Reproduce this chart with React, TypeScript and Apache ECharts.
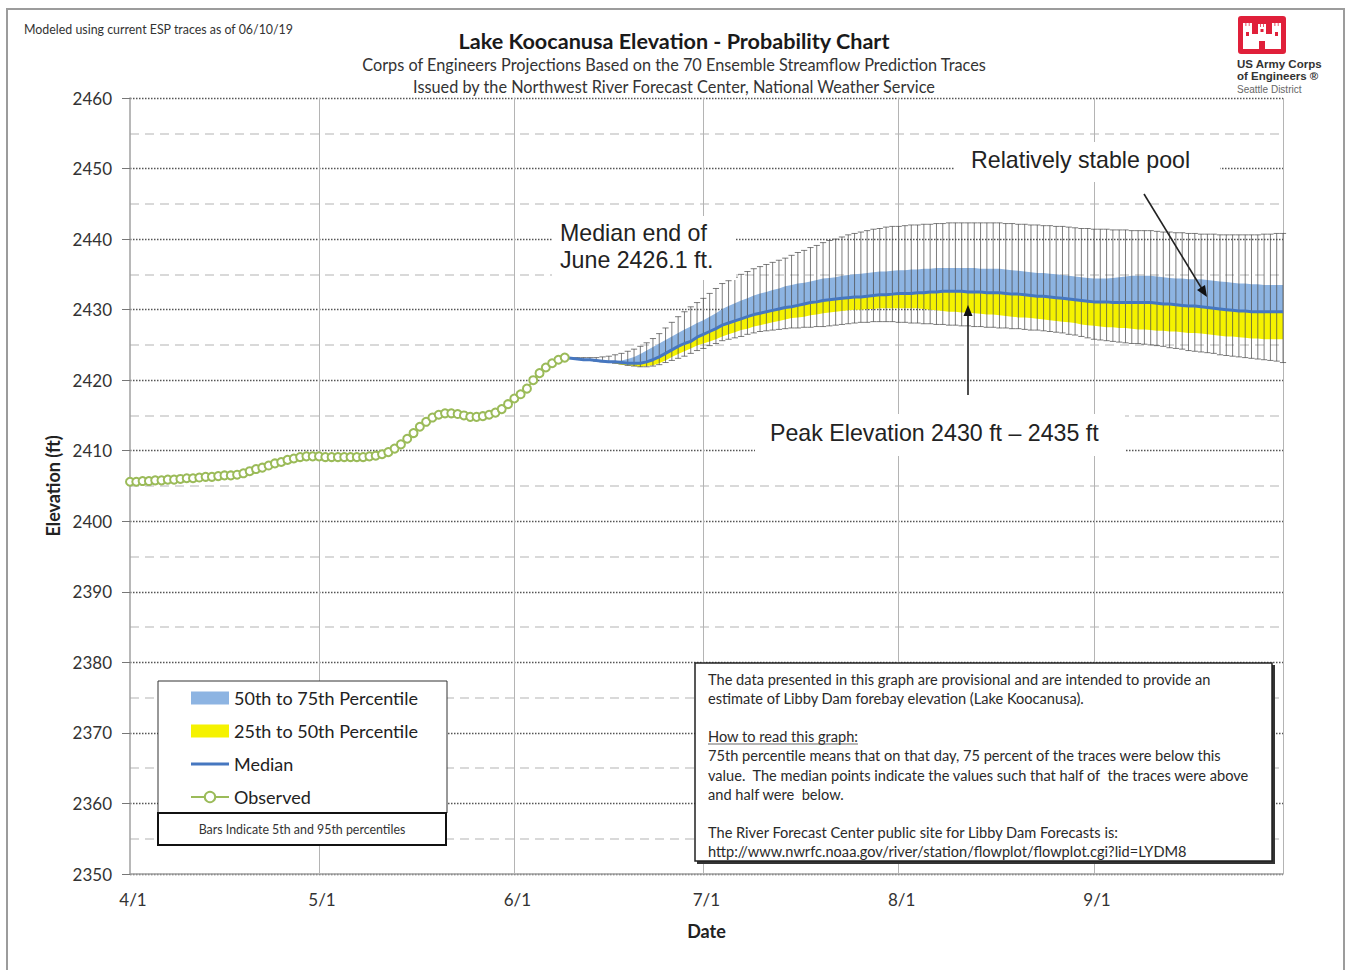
import React, { useEffect, useRef } from "react";
import * as echarts from "echarts";

// ---------- axis / tick data ----------
const monthStartDays = [0, 30, 61, 91, 122, 153];
const monthLabels = ["4/1", "5/1", "6/1", "7/1", "8/1", "9/1"];
const verticalGridDays = [30, 61, 91, 122, 153, 183];
const xMaxDay = 183;
const yMin = 2350;
const yMax = 2460;

// ---------- observed elevations (daily from 4/1) ----------
const observedStartDay = 0;
const observed = [
  2405.6, 2405.6, 2405.7, 2405.7, 2405.8, 2405.8, 2405.9, 2405.9, 2406.0, 2406.1,
  2406.1, 2406.2, 2406.3, 2406.3, 2406.4, 2406.5, 2406.5, 2406.6, 2406.8, 2407.1,
  2407.4, 2407.6, 2407.9, 2408.2, 2408.4, 2408.7, 2408.9, 2409.1, 2409.2, 2409.2,
  2409.2, 2409.1, 2409.1, 2409.1, 2409.1, 2409.1, 2409.1, 2409.1, 2409.2, 2409.3,
  2409.5, 2409.8, 2410.3, 2410.9, 2411.7, 2412.5, 2413.4, 2414.1, 2414.7, 2415.1,
  2415.3, 2415.3, 2415.2, 2415.0, 2414.8, 2414.8, 2414.9, 2415.1, 2415.4, 2415.9,
  2416.6, 2417.4, 2418.0, 2418.8, 2420.0, 2421.0, 2421.8, 2422.4, 2422.9, 2423.2,
];

// ---------- forecast percentiles (daily from 6/9) ----------
const forecastStartDay = 69;
const median = [
  2423.2, 2423.1, 2423.0, 2422.9, 2422.9, 2422.8, 2422.7, 2422.6, 2422.6, 2422.5,
  2422.4, 2422.4, 2422.4, 2422.6, 2422.9, 2423.3, 2423.8, 2424.3, 2424.8, 2425.2,
  2425.5, 2426.1, 2426.5, 2426.9, 2427.3, 2427.8, 2428.1, 2428.4, 2428.7, 2429.0,
  2429.3, 2429.5, 2429.7, 2429.9, 2430.1, 2430.3, 2430.4, 2430.6, 2430.8, 2431.0,
  2431.1, 2431.3, 2431.4, 2431.5, 2431.6, 2431.7, 2431.8, 2431.8, 2431.9, 2432.0,
  2432.1, 2432.1, 2432.2, 2432.3, 2432.3, 2432.3, 2432.4, 2432.4, 2432.5, 2432.5,
  2432.6, 2432.6, 2432.6, 2432.6, 2432.5, 2432.5, 2432.5, 2432.4, 2432.4, 2432.4,
  2432.3, 2432.2, 2432.2, 2432.1, 2432.0, 2431.9, 2431.9, 2431.8, 2431.7, 2431.6,
  2431.5, 2431.4, 2431.3, 2431.2, 2431.1, 2431.1, 2431.1, 2431.0, 2431.0, 2431.0,
  2431.0, 2431.0, 2431.0, 2431.0, 2430.9, 2430.8, 2430.8, 2430.7, 2430.6, 2430.5,
  2430.5, 2430.4, 2430.3, 2430.2, 2430.1, 2430.0, 2429.9, 2429.8, 2429.8, 2429.7,
  2429.7, 2429.7, 2429.7, 2429.7, 2429.7,
];
const p75 = [
  2423.2, 2423.1, 2423.0, 2422.9, 2422.9, 2422.8, 2422.8, 2422.7, 2422.7, 2422.8,
  2423.0, 2423.3, 2423.7, 2424.2, 2424.7, 2425.2, 2425.7, 2426.2, 2426.7, 2427.2,
  2427.6, 2428.1, 2428.5, 2429.0, 2429.5, 2430.1, 2430.5, 2430.9, 2431.3, 2431.6,
  2432.0, 2432.3, 2432.5, 2432.8, 2433.0, 2433.3, 2433.5, 2433.7, 2433.8, 2434.0,
  2434.2, 2434.4, 2434.5, 2434.6, 2434.8, 2434.9, 2435.0, 2435.1, 2435.2, 2435.3,
  2435.4, 2435.4, 2435.5, 2435.6, 2435.6, 2435.7, 2435.7, 2435.8, 2435.8, 2435.9,
  2435.9, 2435.9, 2435.9, 2435.9, 2435.9, 2435.9, 2435.8, 2435.8, 2435.8, 2435.8,
  2435.7, 2435.6, 2435.5, 2435.4, 2435.3, 2435.2, 2435.2, 2435.1, 2435.0, 2434.9,
  2434.8, 2434.7, 2434.6, 2434.5, 2434.4, 2434.4, 2434.4, 2434.5, 2434.6, 2434.7,
  2434.8, 2434.8, 2434.8, 2434.8, 2434.7, 2434.6, 2434.5, 2434.4, 2434.4, 2434.3,
  2434.3, 2434.3, 2434.2, 2434.1, 2434.0, 2433.9, 2433.8, 2433.7, 2433.7, 2433.6,
  2433.6, 2433.5, 2433.5, 2433.5, 2433.5,
];
const p25 = [
  2423.2, 2423.1, 2423.0, 2422.9, 2422.8, 2422.7, 2422.6, 2422.5, 2422.4, 2422.2,
  2422.1, 2422.0, 2421.9, 2422.0, 2422.1, 2422.4, 2422.8, 2423.3, 2423.7, 2424.1,
  2424.5, 2424.9, 2425.2, 2425.5, 2425.8, 2426.2, 2426.5, 2426.8, 2427.1, 2427.3,
  2427.6, 2427.8, 2428.0, 2428.2, 2428.4, 2428.6, 2428.8, 2428.9, 2429.0, 2429.2,
  2429.3, 2429.5, 2429.6, 2429.7, 2429.8, 2429.9, 2430.0, 2430.0, 2430.1, 2430.1,
  2430.2, 2430.2, 2430.2, 2430.2, 2430.2, 2430.2, 2430.2, 2430.1, 2430.0, 2429.9,
  2429.8, 2429.7, 2429.7, 2429.6, 2429.6, 2429.5, 2429.4, 2429.3, 2429.3, 2429.2,
  2429.1, 2429.0, 2428.9, 2428.9, 2428.8, 2428.7, 2428.6, 2428.5, 2428.4, 2428.3,
  2428.2, 2428.1, 2427.9, 2427.8, 2427.7, 2427.6, 2427.5, 2427.5, 2427.4, 2427.4,
  2427.3, 2427.2, 2427.2, 2427.1, 2427.0, 2427.0, 2426.9, 2426.9, 2426.8, 2426.7,
  2426.7, 2426.6, 2426.5, 2426.4, 2426.3, 2426.2, 2426.2, 2426.1, 2426.0, 2425.9,
  2425.9, 2425.8, 2425.8, 2425.8, 2425.8,
];
const p95 = [
  2423.2, 2423.2, 2423.2, 2423.2, 2423.2, 2423.2, 2423.3, 2423.4, 2423.6, 2423.8,
  2424.1, 2424.4, 2424.8, 2425.3, 2425.9, 2426.6, 2427.4, 2428.2, 2429.0, 2429.7,
  2430.4, 2431.0, 2431.6, 2432.3, 2433.0, 2433.7, 2434.1, 2434.6, 2435.0, 2435.4,
  2435.8, 2436.1, 2436.4, 2436.7, 2437.0, 2437.3, 2437.7, 2438.1, 2438.4, 2438.8,
  2439.1, 2439.5, 2439.8, 2440.0, 2440.3, 2440.6, 2440.8, 2441.0, 2441.2, 2441.4,
  2441.5, 2441.7, 2441.8, 2441.8, 2441.9, 2442.0, 2442.0, 2442.1, 2442.1, 2442.2,
  2442.2, 2442.3, 2442.3, 2442.3, 2442.3, 2442.3, 2442.3, 2442.3, 2442.3, 2442.3,
  2442.2, 2442.2, 2442.1, 2442.1, 2442.0, 2442.0, 2441.9, 2441.9, 2441.8, 2441.8,
  2441.7, 2441.6, 2441.5, 2441.5, 2441.4, 2441.4, 2441.4, 2441.3, 2441.3, 2441.3,
  2441.2, 2441.2, 2441.2, 2441.2, 2441.1, 2441.0, 2441.0, 2440.9, 2440.9, 2440.8,
  2440.8, 2440.7, 2440.7, 2440.7, 2440.6, 2440.6, 2440.6, 2440.6, 2440.6, 2440.6,
  2440.6, 2440.7, 2440.7, 2440.8, 2440.8,
];
const p5 = [
  2423.2, 2423.1, 2423.0, 2422.9, 2422.8, 2422.7, 2422.6, 2422.5, 2422.4, 2422.3,
  2422.1, 2422.0, 2421.9, 2421.9, 2422.0, 2422.2, 2422.5, 2422.8, 2423.1, 2423.4,
  2423.8, 2424.2, 2424.5, 2424.9, 2425.2, 2425.6, 2425.8, 2426.0, 2426.2, 2426.5,
  2426.7, 2426.9, 2427.0, 2427.1, 2427.2, 2427.3, 2427.4, 2427.4, 2427.5, 2427.5,
  2427.6, 2427.6, 2427.7, 2427.8, 2427.9, 2428.0, 2428.1, 2428.2, 2428.2, 2428.3,
  2428.3, 2428.3, 2428.3, 2428.2, 2428.2, 2428.1, 2428.1, 2428.0, 2428.0, 2427.9,
  2427.9, 2427.8, 2427.8, 2427.7, 2427.7, 2427.6, 2427.6, 2427.5, 2427.5, 2427.4,
  2427.4, 2427.3, 2427.3, 2427.2, 2427.1, 2427.1, 2427.0, 2426.9, 2426.8, 2426.7,
  2426.5, 2426.4, 2426.2, 2426.0, 2425.8, 2425.7, 2425.6, 2425.5, 2425.4, 2425.3,
  2425.2, 2425.2, 2425.1, 2425.0, 2424.9, 2424.8, 2424.6, 2424.5, 2424.4, 2424.2,
  2424.1, 2424.0, 2423.9, 2423.8, 2423.6, 2423.5, 2423.4, 2423.3, 2423.2, 2423.1,
  2423.0, 2422.9, 2422.8, 2422.7, 2422.5,
];

// ---------- names & texts ----------
const NAME_BLUE = "50th to 75th Percentile";
const NAME_YELLOW = "25th to 50th Percentile";
const NAME_MEDIAN = "Median";
const NAME_OBS = "Observed";

const infoLines = [
  { t: "The data presented in this graph are provisional and are intended to provide an", y: 679 },
  { t: "estimate of Libby Dam forebay elevation (Lake Koocanusa).", y: 698 },
  { t: "How to read this graph:", y: 736 },
  { t: "75th percentile means that on that day, 75 percent of the traces were below this", y: 755 },
  { t: "value.  The median points indicate the values such that half of  the traces were above", y: 775 },
  { t: "and half were  below.", y: 794 },
  { t: "The River Forecast Center public site for Libby Dam Forecasts is:", y: 832 },
  { t: "http://www.nwrfc.noaa.gov/river/station/flowplot/flowplot.cgi?lid=LYDM8", y: 851 },
];

const FONT = "Lato, 'Noto Sans', sans-serif";
const ARIAL = "'Liberation Sans', Arial, sans-serif";

function txt(text: string, x: number, y: number, o: any = {}) {
  const align = o.align || "left";
  return {
    type: "text",
    z: o.z || 100,
    style: {
      text,
      x,
      y,
      fill: o.fill || "#222",
      fontFamily: o.fontFamily || FONT,
      fontSize: o.fontSize || 12,
      fontWeight: o.fontWeight || "normal",
      align,
      textAlign: align,
      verticalAlign: "middle",
      textVerticalAlign: "middle",
    },
  };
}

export default function App() {
  const ref = useRef<HTMLDivElement>(null);

  useEffect(() => {
    if (!ref.current) return;
    const chart = echarts.init(ref.current, null, { renderer: "svg" });

    const fDay = (i: number) => forecastStartDay + i;
    const obsData = observed.map((v, i) => [observedStartDay + i, v]);
    const medianData = median.map((v, i) => [fDay(i), v]);
    const barData = p5.map((v, i) => [fDay(i), v, p95[i]]);

    const bandSeries = (name: string, lower: number[], upper: number[], color: string) => ({
      name,
      type: "custom",
      silent: true,
      itemStyle: { color },
      data: lower.map((v, i) => [fDay(i), v, upper[i]]),
      encode: { x: 0, y: [1, 2] },
      renderItem: (params: any, api: any) => {
        if (params.dataIndex !== 0) return null;
        const pts: number[][] = [];
        for (let i = 0; i < upper.length; i++) pts.push(api.coord([fDay(i), upper[i]]));
        for (let i = lower.length - 1; i >= 0; i--) pts.push(api.coord([fDay(i), lower[i]]));
        return { type: "polygon", shape: { points: pts }, style: { fill: color, stroke: null } };
      },
    });

    // logo castle pieces (white on red)
    const lx = 1238, ly = 16;
    const castle = [
      [5, 10, 9, 23], [34, 10, 9, 23], [14, 18, 20, 15], [20, 11, 8, 7],
      [5, 7, 2.5, 3], [8.3, 7, 2.5, 3], [11.5, 7, 2.5, 3],
      [34, 7, 2.5, 3], [37.3, 7, 2.5, 3], [40.5, 7, 2.5, 3],
      [20, 8, 2.2, 3], [22.9, 8, 2.2, 3], [25.8, 8, 2.2, 3],
    ];
    const castleHoles = [[21, 25, 6, 8], [8, 16, 3, 4], [37, 16, 3, 4], [22.5, 13, 3, 3]];

    const graphics: any[] = [
      // outer frame
      { type: "rect", z: 100, shape: { x: 7, y: 9, width: 1337, height: 1000 }, style: { fill: "none", stroke: "#9c9c9c", lineWidth: 2 } },
      txt("Modeled using current ESP traces as of 06/10/19", 24, 29, { fontSize: 12.4, fill: "#333" }),
      txt("Lake Koocanusa Elevation - Probability Chart", 674, 41, { align: "center", fontSize: 21.6, fontWeight: "bold", fill: "#1a1a1a" }),
      txt("Corps of Engineers Projections Based on the 70 Ensemble Streamflow Prediction Traces", 674, 64, { align: "center", fontSize: 16.3, fill: "#333" }),
      txt("Issued by the Northwest River Forecast Center, National Weather Service", 674, 86, { align: "center", fontSize: 16.3, fill: "#333" }),
      // logo
      { type: "rect", z: 100, shape: { x: lx, y: ly, width: 48, height: 38, r: 3 }, style: { fill: "#e0203a" } },
      ...castle.map((c) => ({ type: "rect", z: 101, shape: { x: lx + c[0], y: ly + c[1], width: c[2], height: c[3] }, style: { fill: "#ffffff" } })),
      ...castleHoles.map((c) => ({ type: "rect", z: 102, shape: { x: lx + c[0], y: ly + c[1], width: c[2], height: c[3] }, style: { fill: "#e0203a" } })),
      txt("US Army Corps", 1237, 64, { fontSize: 11.5, fontWeight: "bold", fill: "#333", fontFamily: ARIAL }),
      txt("of Engineers ®", 1237, 76, { fontSize: 11.5, fontWeight: "bold", fill: "#333", fontFamily: ARIAL }),
      txt("Seattle District", 1237, 89, { fontSize: 10, fill: "#666", fontFamily: ARIAL }),
      // annotation backgrounds
      { type: "rect", z: 50, shape: { x: 552, y: 216, width: 184, height: 64 }, style: { fill: "#fff" } },
      { type: "rect", z: 50, shape: { x: 955, y: 142, width: 265, height: 40 }, style: { fill: "#fff" } },
      { type: "rect", z: 50, shape: { x: 755, y: 414, width: 370, height: 42 }, style: { fill: "#fff" } },
      txt("Median end of", 560, 233, { fontSize: 23.2, fontFamily: ARIAL, fill: "#222" }),
      txt("June 2426.1 ft.", 560, 260, { fontSize: 23.2, fontFamily: ARIAL, fill: "#222" }),
      txt("Relatively stable pool", 971, 160, { fontSize: 23.2, fontFamily: ARIAL, fill: "#222" }),
      txt("Peak Elevation 2430 ft \u2013 2435 ft", 770, 433, { fontSize: 23.2, fontFamily: ARIAL, fill: "#222" }),
      // arrows
      { type: "line", z: 100, shape: { x1: 1144, y1: 194, x2: 1202, y2: 289 }, style: { stroke: "#222", lineWidth: 1.6 } },
      { type: "polygon", z: 100, shape: { points: [[1207, 297], [1197, 290], [1205, 285]] }, style: { fill: "#111" } },
      { type: "line", z: 100, shape: { x1: 968, y1: 395, x2: 968, y2: 314 }, style: { stroke: "#222", lineWidth: 1.6 } },
      { type: "polygon", z: 100, shape: { points: [[968, 305], [963.5, 316], [972.5, 316]] }, style: { fill: "#111" } },
      // legend boxes (above the month grid lines, below the legend itself)
      { type: "rect", z: 8, shape: { x: 158, y: 681, width: 289, height: 132 }, style: { fill: "#fff", stroke: "#333", lineWidth: 1 } },
      { type: "rect", z: 8, shape: { x: 158, y: 813, width: 288, height: 32 }, style: { fill: "#fff", stroke: "#111", lineWidth: 2 } },
      txt("Bars Indicate 5th and 95th percentiles", 302, 829, { align: "center", fontSize: 12.4, fill: "#333", z: 9 }),
      // info box
      { type: "rect", z: 98, shape: { x: 697, y: 665, width: 578, height: 199 }, style: { fill: "#333" } },
      { type: "rect", z: 99, shape: { x: 695, y: 663, width: 577, height: 198 }, style: { fill: "#fff", stroke: "#222", lineWidth: 1.5 } },
      ...infoLines.map((l) => txt(l.t, 708, l.y, { fontSize: 14.6, fill: "#2a2a2a" })),
      { type: "line", z: 100, shape: { x1: 708, y1: 744, x2: 858, y2: 744 }, style: { stroke: "#444", lineWidth: 0.8 } },
    ];

    const option: any = {
      animation: false,
      backgroundColor: "#ffffff",
      textStyle: { fontFamily: FONT },
      grid: { left: 130, top: 98, width: 1153, height: 776, containLabel: false },
      legend: {
        orient: "vertical",
        left: 185,
        top: 684,
        itemWidth: 38,
        itemHeight: 13,
        itemGap: 15,
        selectedMode: false,
        z: 12,
        textStyle: { fontFamily: FONT, fontSize: 18, color: "#222" },
        data: [
          { name: NAME_BLUE, icon: "rect" },
          { name: NAME_YELLOW, icon: "rect" },
          { name: NAME_MEDIAN, icon: "path://M0,0L40,0L40,3L0,3Z" },
          { name: NAME_OBS },
        ],
      },
      xAxis: {
        type: "value",
        min: 0,
        max: xMaxDay,
        interval: 1,
        name: "Date",
        nameLocation: "middle",
        nameGap: 48,
        nameTextStyle: { fontFamily: FONT, fontSize: 18, fontWeight: "bold", color: "#222" },
        axisLine: { show: true, onZero: false, lineStyle: { color: "#a0a0a0", width: 1.5 } },
        axisTick: { show: false },
        splitLine: { show: false },
        axisLabel: {
          margin: 17,
          fontSize: 17,
          color: "#333",
          fontFamily: FONT,
          padding: [0, 0, 0, 6],
          showMinLabel: true,
          showMaxLabel: false,
          formatter: (v: number) => {
            const k = monthStartDays.indexOf(Math.round(v));
            return k >= 0 && Math.abs(v - Math.round(v)) < 1e-6 ? monthLabels[k] : "";
          },
        },
      },
      yAxis: {
        type: "value",
        min: yMin,
        max: yMax,
        interval: 10,
        name: "Elevation (ft)",
        nameLocation: "middle",
        nameGap: 66,
        nameRotate: 90,
        nameTextStyle: { fontFamily: FONT, fontSize: 18, fontWeight: "bold", color: "#222" },
        axisLine: { show: true, onZero: false, lineStyle: { color: "#a0a0a0", width: 1.5 } },
        axisTick: { show: true, inside: false, length: 8, lineStyle: { color: "#777", width: 1 } },
        axisLabel: { margin: 18, fontSize: 17, color: "#333", fontFamily: FONT, formatter: (v: number) => String(v) },
        splitLine: { show: true, lineStyle: { color: "#555", type: [1.5, 1.5], width: 1.3 } },
        minorTick: { show: false, splitNumber: 2 },
        minorSplitLine: { show: true, lineStyle: { color: "#cdcdcd", type: [9, 6], width: 1.5 } },
      },
      series: [
        {
          name: "__grid",
          type: "line",
          data: medianData,
          symbol: "none",
          silent: true,
          lineStyle: { width: 0, opacity: 0 },
          itemStyle: { color: "#ffffff" },
          markLine: {
            silent: true,
            z: 1,
            symbol: ["none", "none"],
            label: { show: false },
            lineStyle: { color: "#b4b4b4", width: 1, type: "solid" },
            data: verticalGridDays.map((d) => ({ xAxis: d })),
          },
        },
        bandSeries(NAME_YELLOW, p25, median, "#f5f200"),
        bandSeries(NAME_BLUE, median, p75, "#8db4e2"),
        {
          name: "5th-95th bars",
          type: "custom",
          silent: true,
          data: barData,
          encode: { x: 0, y: [1, 2] },
          renderItem: (params: any, api: any) => {
            const x = api.value(0);
            const lo = api.coord([x, api.value(1)]);
            const hi = api.coord([x, api.value(2)]);
            const hw = 3.1;
            const style = { stroke: "rgba(70,70,70,0.7)", lineWidth: 1, fill: null };
            return {
              type: "group",
              children: [
                { type: "line", shape: { x1: lo[0], y1: lo[1], x2: hi[0], y2: hi[1] }, style },
                { type: "line", shape: { x1: hi[0] - hw, y1: hi[1], x2: hi[0] + hw, y2: hi[1] }, style },
                { type: "line", shape: { x1: lo[0] - hw, y1: lo[1], x2: lo[0] + hw, y2: lo[1] }, style },
              ],
            };
          },
        },
        {
          name: NAME_MEDIAN,
          type: "line",
          data: medianData,
          symbol: "none",
          silent: true,
          itemStyle: { color: "#4677c0" },
          lineStyle: { color: "#4677c0", width: 3 },
        },
        {
          name: NAME_OBS,
          type: "line",
          data: obsData,
          symbol: "emptyCircle",
          symbolSize: 8,
          silent: true,
          itemStyle: { color: "#9bbb59", borderWidth: 1.8 },
          lineStyle: { color: "#9bbb59", width: 1.5 },
        },
      ],
      graphic: { elements: graphics },
    };

    chart.setOption(option);
    return () => chart.dispose();
  }, []);

  return (
    <div
      ref={ref}
      style={{ position: "fixed", left: 0, top: 0, width: 1348, height: 970, background: "#fff" }}
    />
  );
}
